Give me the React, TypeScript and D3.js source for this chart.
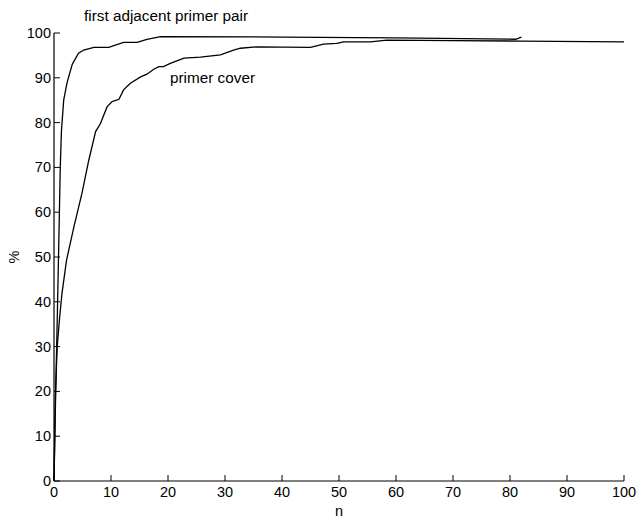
import React from "react"
import * as d3 from "d3"

// n values and percentages
const pairN = [0, 0.3, 0.6, 0.9, 1.1, 1.3, 1.7, 2.3, 3.2, 4.3, 5.2, 7, 9.6, 12.2, 14.6, 16.3, 18.7, 40, 60, 81, 82]
const pairPct = [0, 20, 38, 57, 70, 78, 85, 89, 93, 95.5, 96.2, 96.8, 96.8, 97.9, 97.9, 98.6, 99.2, 99.1, 98.9, 98.6, 99.1]

const coverN = [0, 0.26, 0.56, 1.0, 1.4, 2.2, 3.5, 4.9, 6.1, 7.3, 8.15, 9.3, 10.2, 11.4, 12.2, 13.4, 15.2, 16.3, 17.5, 18.4, 19.2, 20.4, 22.8, 25.7, 29.2, 31.5, 32.7, 35.6, 45, 47.3, 49.6, 50.8, 55.5, 58.4, 70, 82, 100]
const coverPct = [0, 19.6, 30, 36.7, 41.9, 49.3, 56.8, 64.2, 71.6, 78, 79.8, 83.5, 84.7, 85.2, 87.3, 88.8, 90.2, 90.8, 91.9, 92.5, 92.5, 93.2, 94.4, 94.6, 95.1, 96.2, 96.6, 96.9, 96.8, 97.5, 97.7, 98, 98, 98.4, 98.3, 98.2, 98]

const xTicks = [0, 10, 20, 30, 40, 50, 60, 70, 80, 90, 100]
const yTicks = [0, 10, 20, 30, 40, 50, 60, 70, 80, 90, 100]

const width = 637
const height = 520
const margin = { top: 33, right: 13, bottom: 39, left: 54 }
const font = "'Liberation Sans', Arial, Helvetica, sans-serif"

export default function App() {
	const x = d3.scaleLinear().domain([0, 100]).range([margin.left, width - margin.right])
	const y = d3.scaleLinear().domain([0, 100]).range([height - margin.bottom, margin.top])

	const line = d3
		.line<[number, number]>()
		.x((d) => x(d[0]))
		.y((d) => y(d[1]))

	const pairData = pairN.map((n, i) => [n, pairPct[i]] as [number, number])
	const coverData = coverN.map((n, i) => [n, coverPct[i]] as [number, number])

	const x0 = x(0)
	const y0 = y(0)

	return (
		<svg
			width={width}
			height={height}
			style={{ position: "absolute", left: 0, top: 0, background: "white" }}
			fontFamily={font}
			fontSize={14.5}>
			{/* axes */}
			<line x1={x0} x2={x0} y1={y(100)} y2={y0} stroke="black" strokeWidth={1.2} />
			<line x1={x0} x2={x(100)} y1={y0} y2={y0} stroke="black" strokeWidth={1.2} />
			{yTicks.map((t) => (
				<g key={"y" + t}>
					<line x1={x0} x2={x0 + 6} y1={y(t)} y2={y(t)} stroke="black" strokeWidth={1} />
					<text x={x0 - 3} y={y(t)} dy="0.35em" textAnchor="end">
						{t}
					</text>
				</g>
			))}
			{xTicks.map((t) => (
				<g key={"x" + t}>
					<line x1={x(t)} x2={x(t)} y1={y0} y2={y0 - 6} stroke="black" strokeWidth={1} />
					<text x={x(t)} y={y0 + 16} textAnchor="middle">
						{t}
					</text>
				</g>
			))}
			<text x={(x(0) + x(100)) / 2} y={516} textAnchor="middle">
				n
			</text>
			<text
				transform={`translate(19,${(y(0) + y(100)) / 2}) rotate(-90)`}
				textAnchor="middle">
				%
			</text>

			{/* curves */}
			<path d={line(pairData) || ""} fill="none" stroke="black" strokeWidth={1.3} />
			<path d={line(coverData) || ""} fill="none" stroke="black" strokeWidth={1.3} />

			<text x={84} y={21} fontSize={15.3}>first adjacent primer pair</text>
			<text x={170} y={83} fontSize={15.3}>primer cover</text>
		</svg>
	)
}
